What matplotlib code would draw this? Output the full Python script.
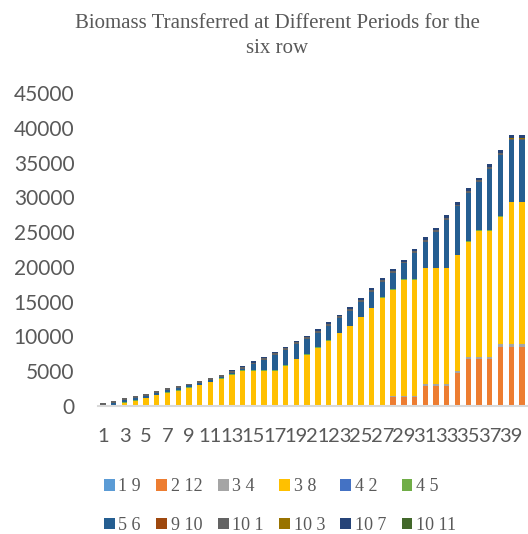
import numpy as np
import matplotlib
matplotlib.use('Agg')
import matplotlib.pyplot as plt

# periods 1..40
periods = list(range(1, 41))
tick_labels = [str(p) for p in periods[::2]]

# stacked series, bottom to top
s_1_9 = [0] * 40
s_2_12 = [0] * 27 + [1250, 1250, 1250, 2880, 2880, 2880, 4700,
                     6710, 6710, 6710, 8530, 8530, 8530]
s_3_4 = [0] * 24 + [200, 200, 200, 250, 250, 250, 300, 300, 300, 300,
                    320, 320, 320, 400, 400, 400]
s_3_8 = [0, 0, 480, 770, 1100, 1530, 1920, 2160, 2640, 2950,
         3380, 3880, 4460, 5030, 5030, 5030, 5030, 5800, 6690, 7380,
         8390, 9400, 10450, 11430, 12580, 13850, 15360, 15200, 16640, 16670,
         16620, 16620, 16620, 16640, 16600, 18135, 18135, 18250, 20380, 20380]
s_4_2 = [0] * 40
s_4_5 = [0, 0] + [80] * 38
s_5_6 = [200, 420, 340, 290, 290, 290, 290, 340, 250, 310,
         320, 250, 190, 190, 890, 1490, 2250, 2200, 2110, 2190,
         2080, 2075, 2120, 2180, 2140, 2275, 2240, 2350, 2300, 3750,
         3750, 5165, 6910, 6970, 6970, 6945, 8885, 8880, 8790, 8790]
s_9_10 = [0] * 40
s_10_1 = [180] + [250] * 39
s_10_3 = [0] * 38 + [120, 120]
s_10_7 = [0] * 12 + [150] * 8 + [250] * 10 + [350] * 10
s_10_11 = [0] * 40

series = [
    ('1 9', s_1_9, '#5B9BD5'),
    ('2 12', s_2_12, '#ED7D31'),
    ('3 4', s_3_4, '#A5A5A5'),
    ('3 8', s_3_8, '#FFC000'),
    ('4 2', s_4_2, '#4472C4'),
    ('4 5', s_4_5, '#70AD47'),
    ('5 6', s_5_6, '#255E91'),
    ('9 10', s_9_10, '#9E480E'),
    ('10 1', s_10_1, '#636363'),
    ('10 3', s_10_3, '#997300'),
    ('10 7', s_10_7, '#264478'),
    ('10 11', s_10_11, '#43682B'),
]

text_col = '#595959'
fig = plt.figure(figsize=(5.28, 5.34), dpi=100)
ax = fig.add_axes([98 / 528, 1 - 406 / 534, 430 / 528, 313 / 534])

x = np.array(periods)
bottom = np.zeros(len(periods))
handles = []
for name, vals, col in series:
    vals = np.array(vals, dtype=float)
    h = ax.bar(x, vals, 0.5, bottom=bottom, color=col, label=name)
    handles.append(h)
    bottom += vals

ax.set_xlim(0.53, 40.56)
ax.set_ylim(0, 45000)
ax.set_yticks(np.arange(0, 45001, 5000))
ax.set_xticks(periods[::2])
ax.set_xticklabels(tick_labels)

for s in ['top', 'right', 'left']:
    ax.spines[s].set_visible(False)
ax.spines['bottom'].set_color('#D9D9D9')
ax.spines['bottom'].set_linewidth(1.5)
ax.tick_params(axis='both', length=0, labelsize=15, labelcolor=text_col)
ax.tick_params(axis='x', labelsize=14.5, pad=16)
ax.tick_params(axis='y', pad=17)
for lab in ax.get_xticklabels() + ax.get_yticklabels():
    lab.set_family('Lato')

fig.text(277 / 528, 1 - 36 / 534,
         'Biomass Transferred at Different Periods for the\nsix row',
         ha='center', va='center', fontsize=15, color=text_col,
         family='Liberation Serif', linespacing=1.4)

# legend: 2 rows x 6 columns, filled row by row
order = []
for j in range(6):
    order += [j, j + 6]
leg = fig.legend([handles[i] for i in order],
                 [series[i][0] for i in order],
                 ncol=6, loc='center', bbox_to_anchor=(280 / 528, 1 - 506 / 534),
                 frameon=False, handlelength=0.6, handleheight=0.6,
                 handletextpad=0.2, columnspacing=0.85, labelspacing=1.2,
                 prop={'family': 'Liberation Serif', 'size': 13})
for t in leg.get_texts():
    t.set_color(text_col)

fig.savefig('out.png', dpi=100)
